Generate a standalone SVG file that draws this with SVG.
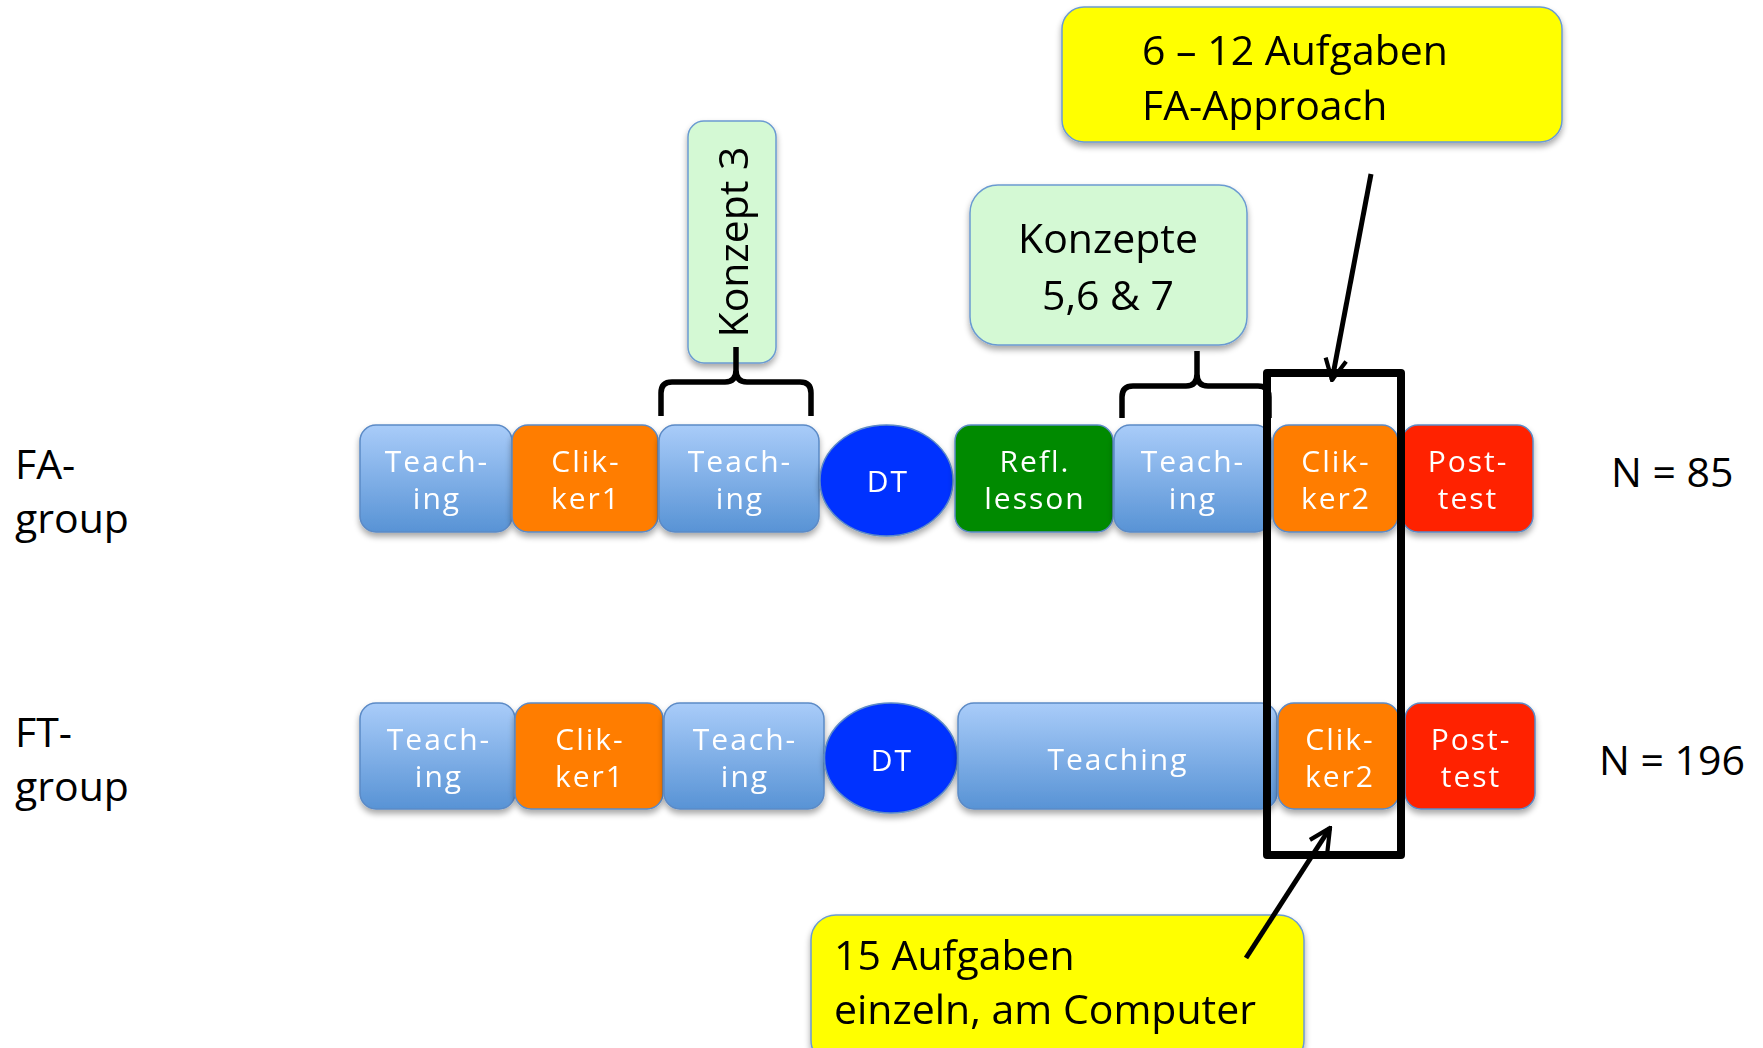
<svg xmlns="http://www.w3.org/2000/svg" width="1763" height="1048" viewBox="0 0 1763 1048">
<style>
.nd{stroke:#5b8ac6;stroke-width:1.5}
.teach{fill:url(#gTeach)}
.click{fill:#ff7d00}
.dt{fill:#0533ff}
.refl{fill:#028a03}
.post{fill:#ff2200}
.nt{font-family:"Open Sans","Liberation Sans",sans-serif;font-size:30px;letter-spacing:2px;fill:#ffffff;text-anchor:middle}
.lbl{font-family:"Open Sans","Liberation Sans",sans-serif;font-size:41px;fill:#000000}
.note{stroke:#6b9bd1;stroke-width:1.5}
.green{fill:#d4f9d4}
.yellow{fill:#ffff00}
.brace{fill:none;stroke:#000;stroke-width:5.5;stroke-linejoin:round}
.arr{fill:none;stroke:#000;stroke-width:5}
</style>
<defs>
<linearGradient id="gTeach" x1="0" y1="0" x2="0" y2="1">
<stop offset="0" stop-color="#a9ccf9"/>
<stop offset="1" stop-color="#5893d5"/>
</linearGradient>
<filter id="sh" x="-10%" y="-10%" width="120%" height="130%">
<feGaussianBlur in="SourceAlpha" stdDeviation="3"/>
<feOffset dx="0" dy="4" result="b"/>
<feComponentTransfer><feFuncA type="linear" slope="0.35"/></feComponentTransfer>
<feMerge><feMergeNode/><feMergeNode in="SourceGraphic"/></feMerge>
</filter>
<marker id="ah" viewBox="0 0 12 12" refX="11" refY="6" markerWidth="5" markerHeight="5" orient="auto" markerUnits="strokeWidth">
<path d="M1,1 L11,6 L1,11" fill="none" stroke="#000" stroke-width="2" stroke-linejoin="miter"/>
</marker>
</defs>
<rect width="1763" height="1048" fill="#ffffff"/>

<!-- labels -->
<g id="label-fa"><text class="lbl" x="15" y="479">FA-</text><text class="lbl" x="15" y="533">group</text></g>
<g id="label-ft"><text class="lbl" x="15" y="747">FT-</text><text class="lbl" x="15" y="801">group</text></g>
<g id="n-fa"><text class="lbl" x="1611" y="487">N = 85</text></g>
<g id="n-ft"><text class="lbl" x="1599" y="775">N = 196</text></g>

<!-- FA row -->
<g id="fa-teach1" filter="url(#sh)"><rect class="nd teach" x="360" y="425" width="152" height="107" rx="16"/><text class="nt" x="437" y="472">Teach-</text><text class="nt" x="437" y="509">ing</text></g>
<g id="fa-click1" filter="url(#sh)"><rect class="nd click" x="512" y="425" width="146" height="107" rx="16"/><text class="nt" x="586" y="472">Clik-</text><text class="nt" x="586" y="509">ker1</text></g>
<g id="fa-teach2" filter="url(#sh)"><rect class="nd teach" x="659" y="425" width="160" height="107" rx="16"/><text class="nt" x="740" y="472">Teach-</text><text class="nt" x="740" y="509">ing</text></g>
<g id="fa-dt" filter="url(#sh)"><ellipse class="nd dt" cx="886.5" cy="480.5" rx="66.5" ry="55.5"/><text class="nt" x="888" y="492">DT</text></g>
<g id="fa-refl" filter="url(#sh)"><rect class="nd refl" x="955" y="425" width="158" height="107" rx="16"/><text class="nt" x="1035" y="472">Refl.</text><text class="nt" x="1035" y="509">lesson</text></g>
<g id="fa-teach3" filter="url(#sh)"><rect class="nd teach" x="1114" y="425" width="157" height="107" rx="16"/><text class="nt" x="1193" y="472">Teach-</text><text class="nt" x="1193" y="509">ing</text></g>
<g id="fa-click2" filter="url(#sh)"><rect class="nd click" x="1273" y="425" width="125" height="107" rx="16"/><text class="nt" x="1336" y="472">Clik-</text><text class="nt" x="1336" y="509">ker2</text></g>
<g id="fa-post" filter="url(#sh)"><rect class="nd post" x="1402" y="425" width="131" height="107" rx="16"/><text class="nt" x="1468" y="472">Post-</text><text class="nt" x="1468" y="509">test</text></g>

<!-- FT row -->
<g id="ft-teach1" filter="url(#sh)"><rect class="nd teach" x="360" y="703" width="155" height="106" rx="16"/><text class="nt" x="439" y="750">Teach-</text><text class="nt" x="439" y="787">ing</text></g>
<g id="ft-click1" filter="url(#sh)"><rect class="nd click" x="515" y="703" width="148" height="106" rx="16"/><text class="nt" x="590" y="750">Clik-</text><text class="nt" x="590" y="787">ker1</text></g>
<g id="ft-teach2" filter="url(#sh)"><rect class="nd teach" x="664" y="703" width="160" height="106" rx="16"/><text class="nt" x="745" y="750">Teach-</text><text class="nt" x="745" y="787">ing</text></g>
<g id="ft-dt" filter="url(#sh)"><ellipse class="nd dt" cx="891" cy="758" rx="66.5" ry="55"/><text class="nt" x="892" y="771">DT</text></g>
<g id="ft-teach" filter="url(#sh)"><rect class="nd teach" x="958" y="703" width="319" height="106" rx="16"/><text class="nt" x="1118" y="770">Teaching</text></g>
<g id="ft-click2" filter="url(#sh)"><rect class="nd click" x="1278" y="703" width="121" height="106" rx="16"/><text class="nt" x="1340" y="750">Clik-</text><text class="nt" x="1340" y="787">ker2</text></g>
<g id="ft-post" filter="url(#sh)"><rect class="nd post" x="1405" y="703" width="130" height="106" rx="16"/><text class="nt" x="1471" y="750">Post-</text><text class="nt" x="1471" y="787">test</text></g>

<!-- notes -->
<g id="note-konzept3" filter="url(#sh)"><rect class="note green" x="688" y="121" width="88" height="242" rx="16"/><text class="lbl" font-size="41" text-anchor="middle" transform="translate(748,242) rotate(-90)">Konzept 3</text></g>
<g id="note-konzepte" filter="url(#sh)"><rect class="note green" x="970" y="185" width="277" height="160" rx="28"/><text class="lbl" x="1108" y="253" text-anchor="middle">Konzepte</text><text class="lbl" x="1108" y="310" text-anchor="middle">5,6 &amp; 7</text></g>
<g id="note-fa" filter="url(#sh)"><rect class="note yellow" x="1062" y="7" width="500" height="135" rx="22"/><text class="lbl" x="1142" y="65">6 – 12 Aufgaben</text><text class="lbl" x="1142" y="120">FA-Approach</text></g>
<g id="note-ft" filter="url(#sh)"><rect class="note yellow" x="811" y="915" width="493" height="150" rx="25"/><text class="lbl" x="834" y="970">15 Aufgaben</text><text class="lbl" x="834" y="1024">einzeln, am Computer</text></g>

<!-- connectors -->
<g id="connectors">
<path class="brace" d="M661,416 V393 Q661,382 672,382 H725 Q736,382 736,370 V347 M736,370 Q736,382 747,382 H800 Q811,382 811,393 V416"/>
<path class="brace" d="M1122,418 V397 Q1122,386 1133,386 H1186 Q1197,386 1197,374 V351 M1197,374 Q1197,386 1208,386 H1258 Q1269,386 1269,397 V418"/>
<rect x="1267" y="373" width="134" height="482" fill="none" stroke="#000" stroke-width="8" stroke-linejoin="round"/>
<line class="arr" x1="1371" y1="174" x2="1332" y2="380" marker-end="url(#ah)"/>
<line class="arr" x1="1246" y1="958" x2="1330" y2="828" marker-end="url(#ah)"/>
</g>
</svg>
